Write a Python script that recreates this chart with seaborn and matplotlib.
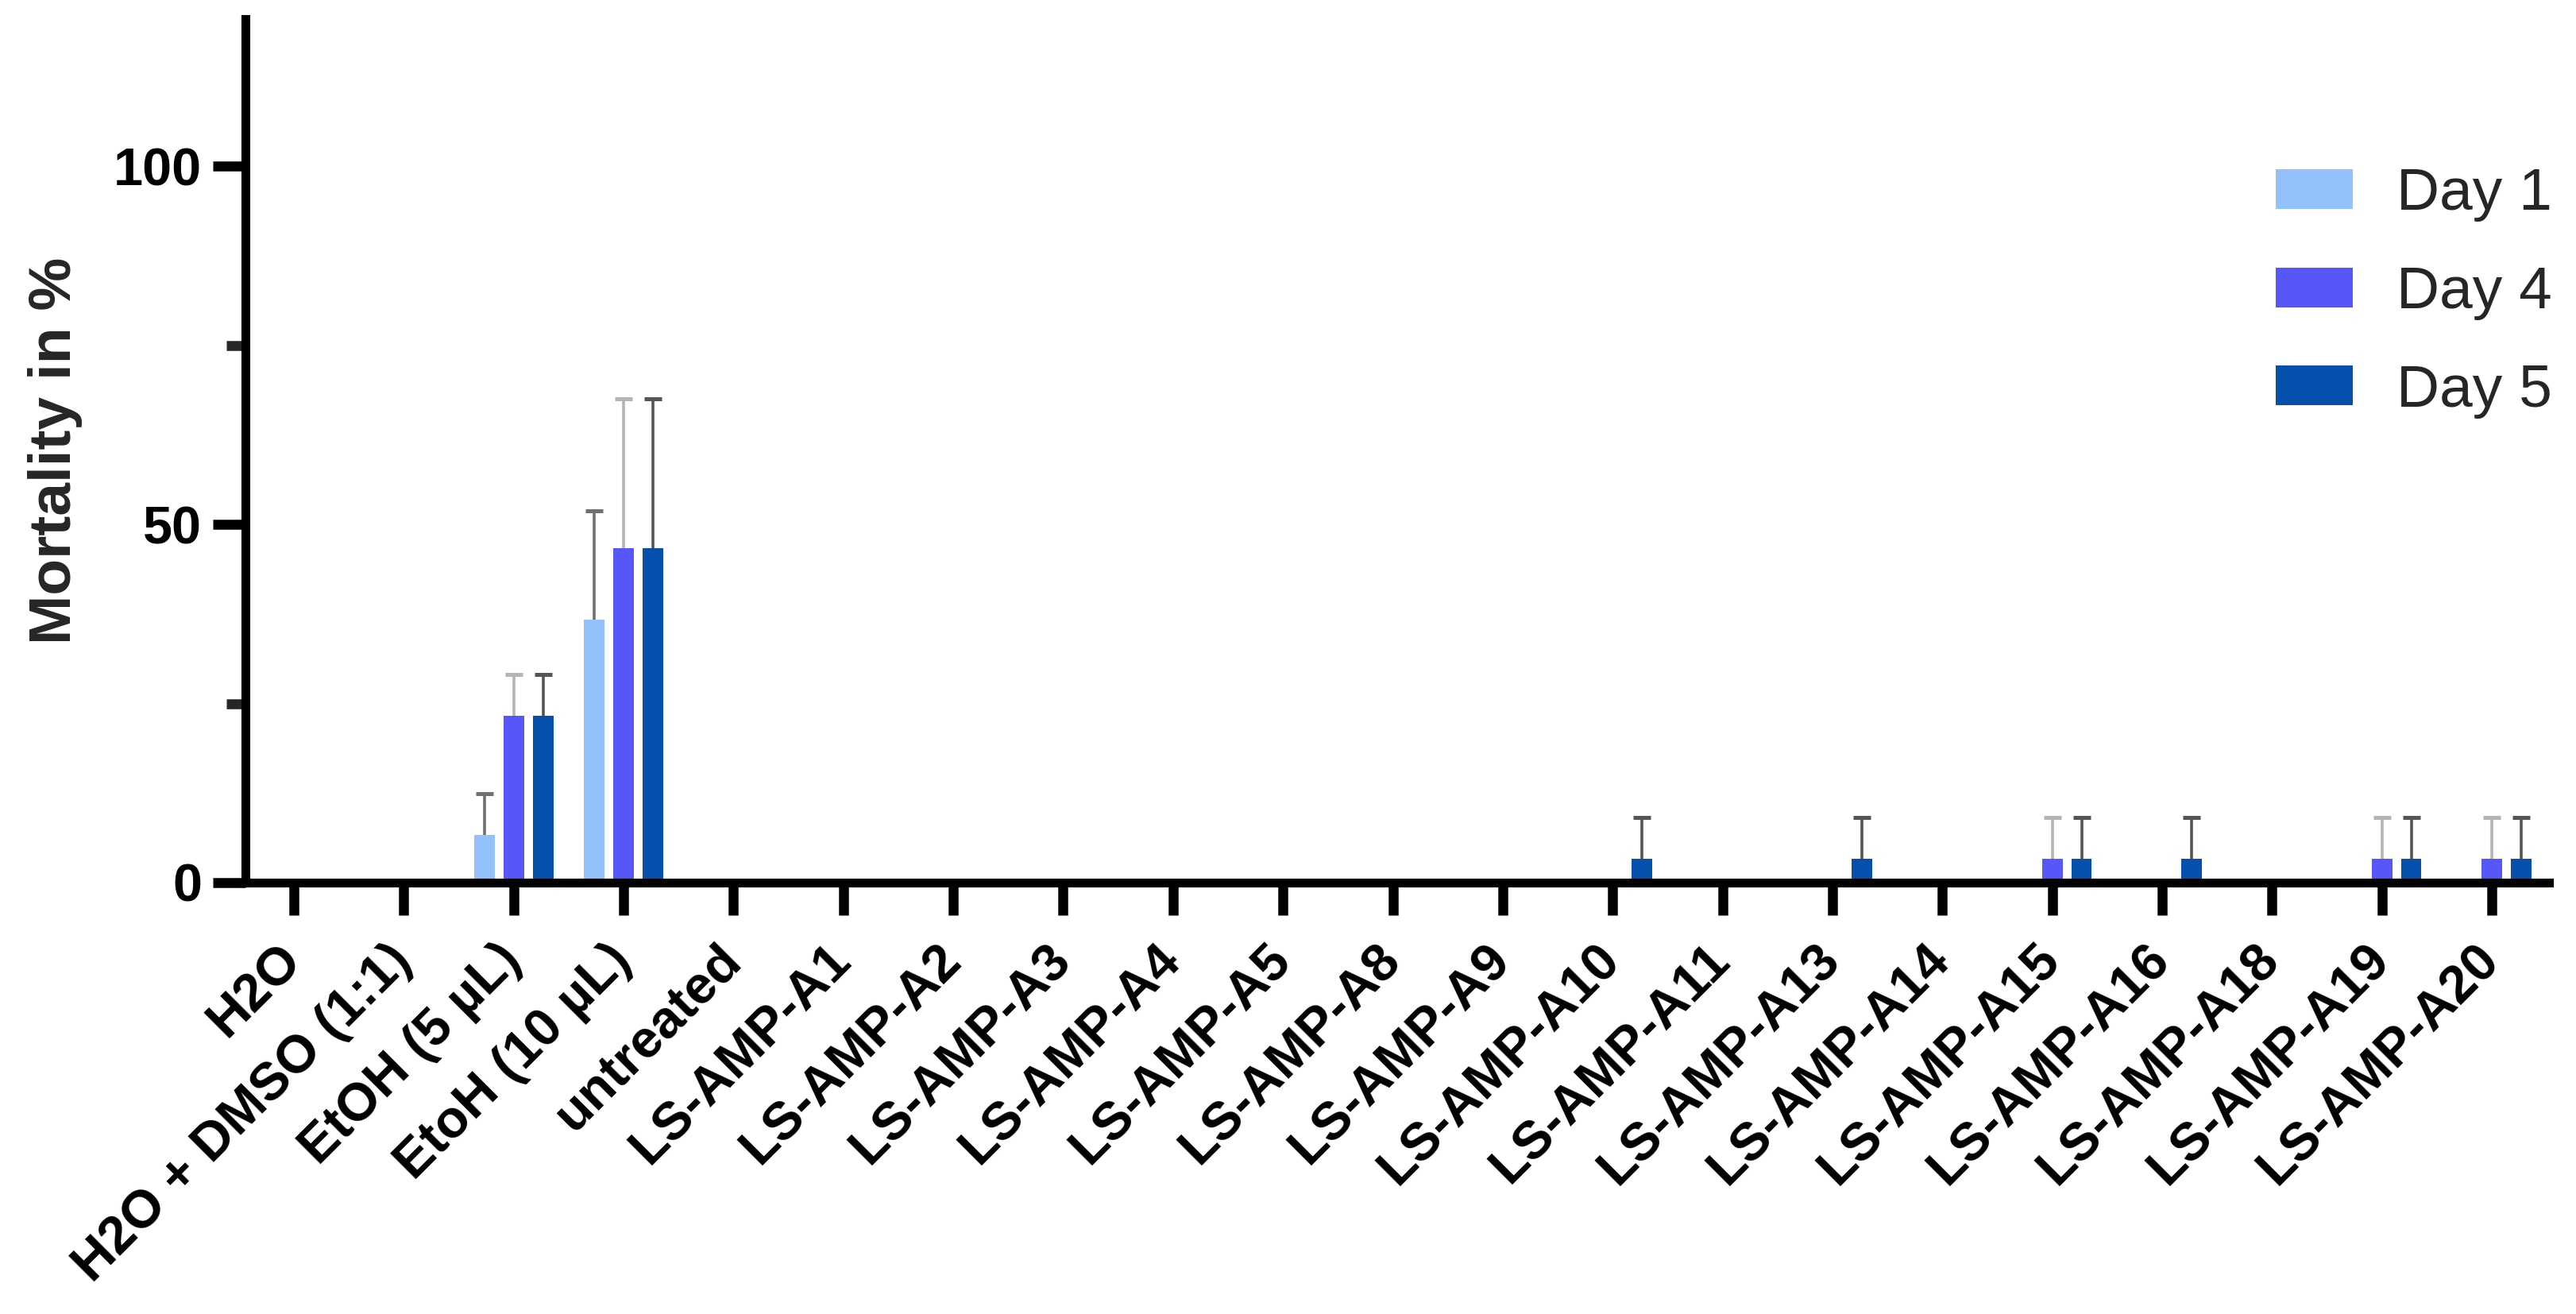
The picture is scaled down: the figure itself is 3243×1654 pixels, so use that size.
import pandas as pd
import seaborn as sns
from matplotlib import pyplot as plt

categories = ["H2O", "H2O + DMSO (1:1)", "EtOH (5 µL)", "EtoH (10 µL)", "untreated",
              "LS-AMP-A1", "LS-AMP-A2", "LS-AMP-A3", "LS-AMP-A4", "LS-AMP-A5",
              "LS-AMP-A8", "LS-AMP-A9", "LS-AMP-A10", "LS-AMP-A11", "LS-AMP-A13",
              "LS-AMP-A14", "LS-AMP-A15", "LS-AMP-A16", "LS-AMP-A18", "LS-AMP-A19",
              "LS-AMP-A20"]
days = ["Day 1", "Day 4", "Day 5"]

day1_mean = [0, 0, 6.67, 36.67, 0, 0, 0, 0, 0, 0, 0, 0, 0, 0, 0, 0, 0, 0, 0, 0, 0]
day4_mean = [0, 0, 23.33, 46.67, 0, 0, 0, 0, 0, 0, 0, 0, 0, 0, 0, 0, 3.33, 0, 0, 3.33, 3.33]
day5_mean = [0, 0, 23.33, 46.67, 0, 0, 0, 0, 0, 0, 0, 0, 3.33, 0, 3.33, 0, 3.33, 3.33, 0, 3.33, 3.33]

day1_sd = [0, 0, 5.77, 15.28, 0, 0, 0, 0, 0, 0, 0, 0, 0, 0, 0, 0, 0, 0, 0, 0, 0]
day4_sd = [0, 0, 5.77, 20.82, 0, 0, 0, 0, 0, 0, 0, 0, 0, 0, 0, 0, 5.77, 0, 0, 5.77, 5.77]
day5_sd = [0, 0, 5.77, 20.82, 0, 0, 0, 0, 0, 0, 0, 0, 5.77, 0, 5.77, 0, 5.77, 5.77, 0, 5.77, 5.77]

colors = ["#93c1fa", "#5757f7", "#0650ad"]
err_colors = ["#707070", "#b5b5b5", "#555555"]

rows = []
for day, means in zip(days, [day1_mean, day4_mean, day5_mean]):
    for cat, m in zip(categories, means):
        rows.append({"group": cat, "day": day, "mortality": m})
data = pd.DataFrame(rows)

sns.set_style("ticks")
plt.rcParams["font.family"] = ["Liberation Sans", "DejaVu Sans"]

fig = plt.figure(figsize=(16.215, 8.27), dpi=200)
ax = fig.add_axes([0.0953, 0.3283, 0.8942, 0.657])

sns.barplot(data=data, x="group", y="mortality", hue="day", order=categories,
            hue_order=days, palette=colors, width=0.8, gap=0.3,
            errorbar=None, linewidth=0, saturation=1, ax=ax)

# one-sided (upper) SD bars, cap only at the top
for cont, sds, ec in zip(ax.containers, [day1_sd, day4_sd, day5_sd], err_colors):
    for bar, sd in zip(cont, sds):
        if sd > 0:
            xc = bar.get_x() + bar.get_width() / 2
            h = bar.get_height()
            ax.vlines(xc, h, h + sd, color=ec, linewidth=1.3, zorder=1)
            ax.plot(xc, h + sd, marker="_", markersize=8, markeredgewidth=1.8,
                    color=ec, zorder=1)

ax.set_xlim(-0.441, 20.52)
ax.set_ylim(0, 120.5)
ax.set_xlabel("")
ax.set_ylabel("Mortality in %", fontsize=27, fontweight="bold", labelpad=14)

for s in ["top", "right"]:
    ax.spines[s].set_visible(False)
for s in ["left", "bottom"]:
    ax.spines[s].set_linewidth(4)
    ax.spines[s].set_color("black")

ax.tick_params(axis="y", which="major", length=14.7, width=4.5, pad=5, colors="black")
ax.tick_params(axis="y", which="minor", length=8.6, width=4.5)
ax.tick_params(axis="x", length=14.7, width=4.5, pad=17, colors="black")
ax.set_yticks([25, 75], minor=True)
ax.set_yticks([0, 50, 100])
ax.set_yticklabels(["0", "50", "100"], fontsize=24, fontweight="bold")
ax.set_xticks(range(len(categories)))
ax.set_xticklabels(categories, rotation=45, ha="right", va="center",
                   rotation_mode="anchor", fontweight="bold", fontsize=24)

handles, labels = ax.get_legend_handles_labels()
ax.legend(handles, labels, loc="upper right", bbox_to_anchor=(1.0, 0.891),
          bbox_transform=fig.transFigure, frameon=False, fontsize=27,
          handlelength=1.3, handleheight=0.65, labelspacing=0.73,
          handletextpad=0.73, borderaxespad=0)

plt.savefig("out.png", dpi=200)
